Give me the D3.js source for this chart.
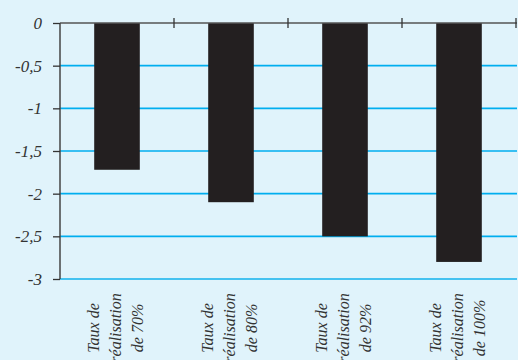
<!DOCTYPE html>
<html><head><meta charset="utf-8">
<script src="https://cdn.jsdelivr.net/npm/d3@7"></script>
<style>
html,body{margin:0;padding:0;background:#e0f3fb;}
svg{display:block;}
svg text{font-family:"Liberation Serif","DejaVu Serif",serif !important;font-style:italic;}
</style></head>
<body>
<svg id="c" width="518" height="360"></svg>
<script>
const categories = ["Taux de réalisation de 70%", "Taux de réalisation de 80%", "Taux de réalisation de 92%", "Taux de réalisation de 100%"];
const labelLines = [["Taux de","réalisation","de 70%"],["Taux de","réalisation","de 80%"],["Taux de","réalisation","de 92%"],["Taux de","réalisation","de 100%"]];
const values = [-1.72, -2.1, -2.5, -2.8];
const yTicks = [0, -0.5, -1, -1.5, -2, -2.5, -3];
const yTickLabels = ["0", "-0,5", "-1", "-1,5", "-2", "-2,5", "-3"];

const svg = d3.select("#c");
const W = 518, H = 360;
const m = {left: 60, right: 1, top: 23, bottom: 81};
const x = d3.scaleBand().domain(categories).range([m.left, m.left + 456]).paddingInner(0.6).paddingOuter(0.3);
const y = d3.scaleLinear().domain([0, -3]).range([m.top, H - m.bottom]);

svg.append("rect").attr("width", W).attr("height", H).attr("fill", "#e0f3fb");

// gridlines
svg.append("g").selectAll("line").data(yTicks.filter(d => d !== 0 && d !== -3)).join("line")
  .attr("x1", m.left).attr("x2", m.left + 457)
  .attr("y1", d => y(d)).attr("y2", d => y(d))
  .attr("stroke", "#00aeef").attr("stroke-width", 1.6);
svg.append("line")
  .attr("x1", m.left).attr("x2", m.left + 457)
  .attr("y1", y(-3)).attr("y2", y(-3))
  .attr("stroke", "#45c2f0").attr("stroke-width", 2.2);

// bars
svg.append("g").selectAll("rect").data(values).join("rect")
  .attr("x", (d, i) => x(categories[i]))
  .attr("width", x.bandwidth())
  .attr("y", y(0))
  .attr("height", d => y(d) - y(0))
  .attr("fill", "#231f20");

// zero axis with ticks at band edges
const edges = categories.map(c => x(c) - x.step() * x.paddingInner() / 2 + x.step());
svg.append("line").attr("x1", m.left).attr("x2", m.left + 457)
  .attr("y1", y(0)).attr("y2", y(0)).attr("stroke", "#555").attr("stroke-width", 1.5);
svg.append("g").selectAll("line").data(edges).join("line")
  .attr("x1", d => d).attr("x2", d => d)
  .attr("y1", y(0) - 5).attr("y2", y(0) + 5)
  .attr("stroke", "#333").attr("stroke-width", 1.3);

// y axis
const yAxis = d3.axisLeft(y).tickValues(yTicks).tickFormat((d, i) => yTickLabels[i]).tickSize(7).tickPadding(11);
const ga = svg.append("g").attr("transform", `translate(${m.left},0)`).call(yAxis);
ga.attr("font-family", null).attr("font-size", null);
ga.select(".domain").attr("stroke", "#444").attr("stroke-width", 1.5).attr("d", `M0,${y(0)}V${y(-3)}`);
ga.selectAll(".tick line").attr("stroke", "#333").attr("stroke-width", 1.3);
ga.selectAll(".tick text").style("font-size", "17px").attr("fill", "#333");

// category labels (rotated)
const lg = svg.append("g");
categories.forEach((c, i) => {
  const cx = x(c) + x.bandwidth() / 2;
  const t = lg.append("text")
    .attr("transform", `translate(${cx},328) rotate(-90)`)
    .style("font-size", "16px")
    .attr("fill", "#333").attr("text-anchor", "middle");
  labelLines[i].forEach((ln, j) => {
    t.append("tspan").attr("x", 0).attr("y", (j - 1) * 22 + 4).text(ln);
  });
});
</script>
</body></html>
